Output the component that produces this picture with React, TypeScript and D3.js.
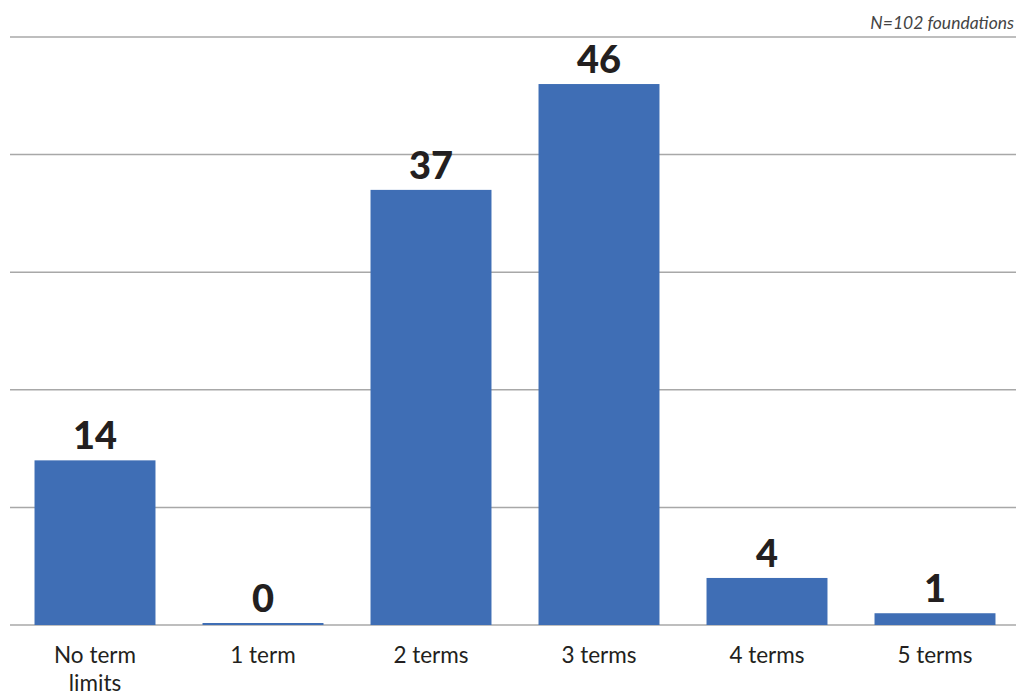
import React from "react";
import * as d3 from "d3";

const categories: string[][] = [["No term", "limits"], ["1 term"], ["2 terms"], ["3 terms"], ["4 terms"], ["5 terms"]];
const counts: number[] = [14, 0, 37, 46, 4, 1];
const gridTicks: number[] = [0, 10, 20, 30, 40, 50];
const note = "N=102 foundations";

const W = 1016;
const H = 694;
const FONT = "Lato, 'Open Sans', sans-serif";
const BAR = "#3f6eb5";

export default function App() {
  const keys = categories.map((c) => c.join(" "));
  const x = d3.scaleBand<string>().domain(keys).range([11, 1019]).paddingInner(0.28).paddingOuter(0.14);
  const y = d3.scaleLinear().domain([0, 50]).range([625, 37]);

  return (
    <svg width={W} height={H} style={{ position: "absolute", left: 0, top: 0 }}>
      <rect width={W} height={H} fill="#fff" />
      <text x={1014} y={29} textAnchor="end" fontFamily={FONT} fontStyle="italic" fontWeight={400} fontSize={17.5} fill="#444">
        {note}
      </text>
      {gridTicks.map((t) => (
        <line key={t} x1={10} x2={1016} y1={y(t)} y2={y(t)} stroke="#a8a8a8" strokeWidth={1.5} />
      ))}
      {counts.map((v, i) => {
        const bx = x(keys[i]) as number;
        const cx = bx + x.bandwidth() / 2;
        const top = v === 0 ? y(0) - 2 : y(v);
        return (
          <g key={keys[i]}>
            <rect x={bx} y={top} width={x.bandwidth()} height={y(0) - top} fill={BAR} />
            <text x={cx} y={top - 11} textAnchor="middle" fontFamily={FONT} fontWeight={900} fontSize={38} fill="#231f20">
              {v}
            </text>
            {/* category name, wrapped onto several lines when needed */}
            <text x={cx} y={663} textAnchor="middle" fontFamily={FONT} fontSize={22.5} fill="#231f20">
              {categories[i].map((line, j) => (
                <tspan key={j} x={cx} dy={j === 0 ? 0 : 27.5}>
                  {line}
                </tspan>
              ))}
            </text>
          </g>
        );
      })}
    </svg>
  );
}
